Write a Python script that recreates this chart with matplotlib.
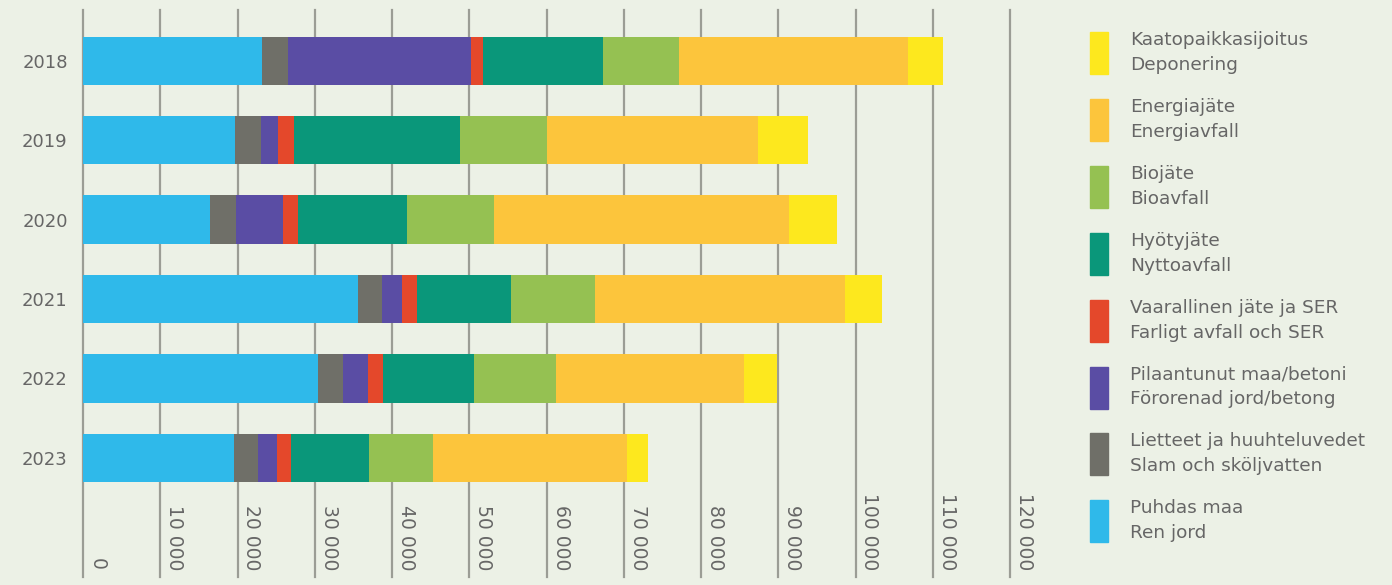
import matplotlib.pyplot as plt
from matplotlib.patches import Rectangle
import matplotlib.transforms as mtransforms

years = ["2018", "2019", "2020", "2021", "2022", "2023"]

# tonnes per category, bottom of the stack first
puhdas_maa = [23200, 19700, 16500, 35600, 30400, 19550]
lietteet = [3300, 3400, 3350, 3100, 3200, 3050]
pilaantunut = [23700, 2200, 6100, 2650, 3300, 2450]
vaarallinen = [1550, 1950, 1850, 1900, 1900, 1850]
hyotyjate = [15500, 21500, 14100, 12150, 11800, 10150]
biojate = [9950, 11250, 11350, 10850, 10600, 8250]
energiajate = [29600, 27400, 38150, 32400, 24400, 25100]
kaatopaikka = [4500, 6450, 6150, 4750, 4200, 2700]

series = [puhdas_maa, lietteet, pilaantunut, vaarallinen,
          hyotyjate, biojate, energiajate, kaatopaikka]
colors = ["#2fb9ea", "#6f6f68", "#5a4da4", "#e4482b",
          "#0a977a", "#95c152", "#fcc53c", "#fde81e"]
labels = [("Puhdas maa", "Ren jord"),
          ("Lietteet ja huuhteluvedet", "Slam och sköljvatten"),
          ("Pilaantunut maa/betoni", "Förorenad jord/betong"),
          ("Vaarallinen jäte ja SER", "Farligt avfall och SER"),
          ("Hyötyjäte", "Nyttoavfall"),
          ("Biojäte", "Bioavfall"),
          ("Energiajäte", "Energiavfall"),
          ("Kaatopaikkasijoitus", "Deponering")]
xticks = list(range(0, 120001, 10000))

bg = "#ecf1e6"
txt = "#666666"

fig = plt.figure(figsize=(13.92, 5.85), dpi=100, facecolor=bg)
W, H = 1392, 585
ax = fig.add_axes([83 / W, (H - 577) / H, (1010 - 83) / W, 567 / H])
ax.set_facecolor(bg)

pos = list(range(len(years)))
left = [0] * len(years)
for vals, c in zip(series, colors):
    ax.barh(pos, vals, left=left, height=0.61, color=c, zorder=3)
    left = [a + b for a, b in zip(left, vals)]

ax.set_xlim(0, 120000)
ax.set_ylim(6.5, -0.64)
for x in xticks:
    ax.axvline(x, color="#9b9d95", lw=1.6, zorder=1, clip_on=False)

for s in ax.spines.values():
    s.set_visible(False)
ax.set_xticks([])
ax.set_yticks(pos)
ax.set_yticklabels(years, fontsize=13, color=txt)
ax.tick_params(axis="y", length=0, pad=11)

trans = mtransforms.blended_transform_factory(ax.transData, ax.transAxes)
trans = mtransforms.offset_copy(trans, fig=fig, x=5, y=0, units="dots")
for x in xticks:
    lab = f"{x:,}".replace(",", " ")
    ax.text(x, 0.012, lab, transform=trans, rotation=270, ha="left",
            va="bottom", fontsize=13.5, color=txt)

# legend, top entry is the last stacked series
for i, (c, (fi, sv)) in enumerate(zip(colors[::-1], labels[::-1])):
    top = 32 + i * 66.9
    fig.patches.append(Rectangle((1090 / W, (H - top - 42) / H), 18 / W, 42 / H,
                                 color=c, transform=fig.transFigure))
    fig.text(1130 / W, (H - top - 8) / H, fi, fontsize=13.3, color=txt, va="center")
    fig.text(1130 / W, (H - top - 33) / H, sv, fontsize=13.3, color=txt, va="center")

fig.savefig("out.png", dpi=100, facecolor=bg)
